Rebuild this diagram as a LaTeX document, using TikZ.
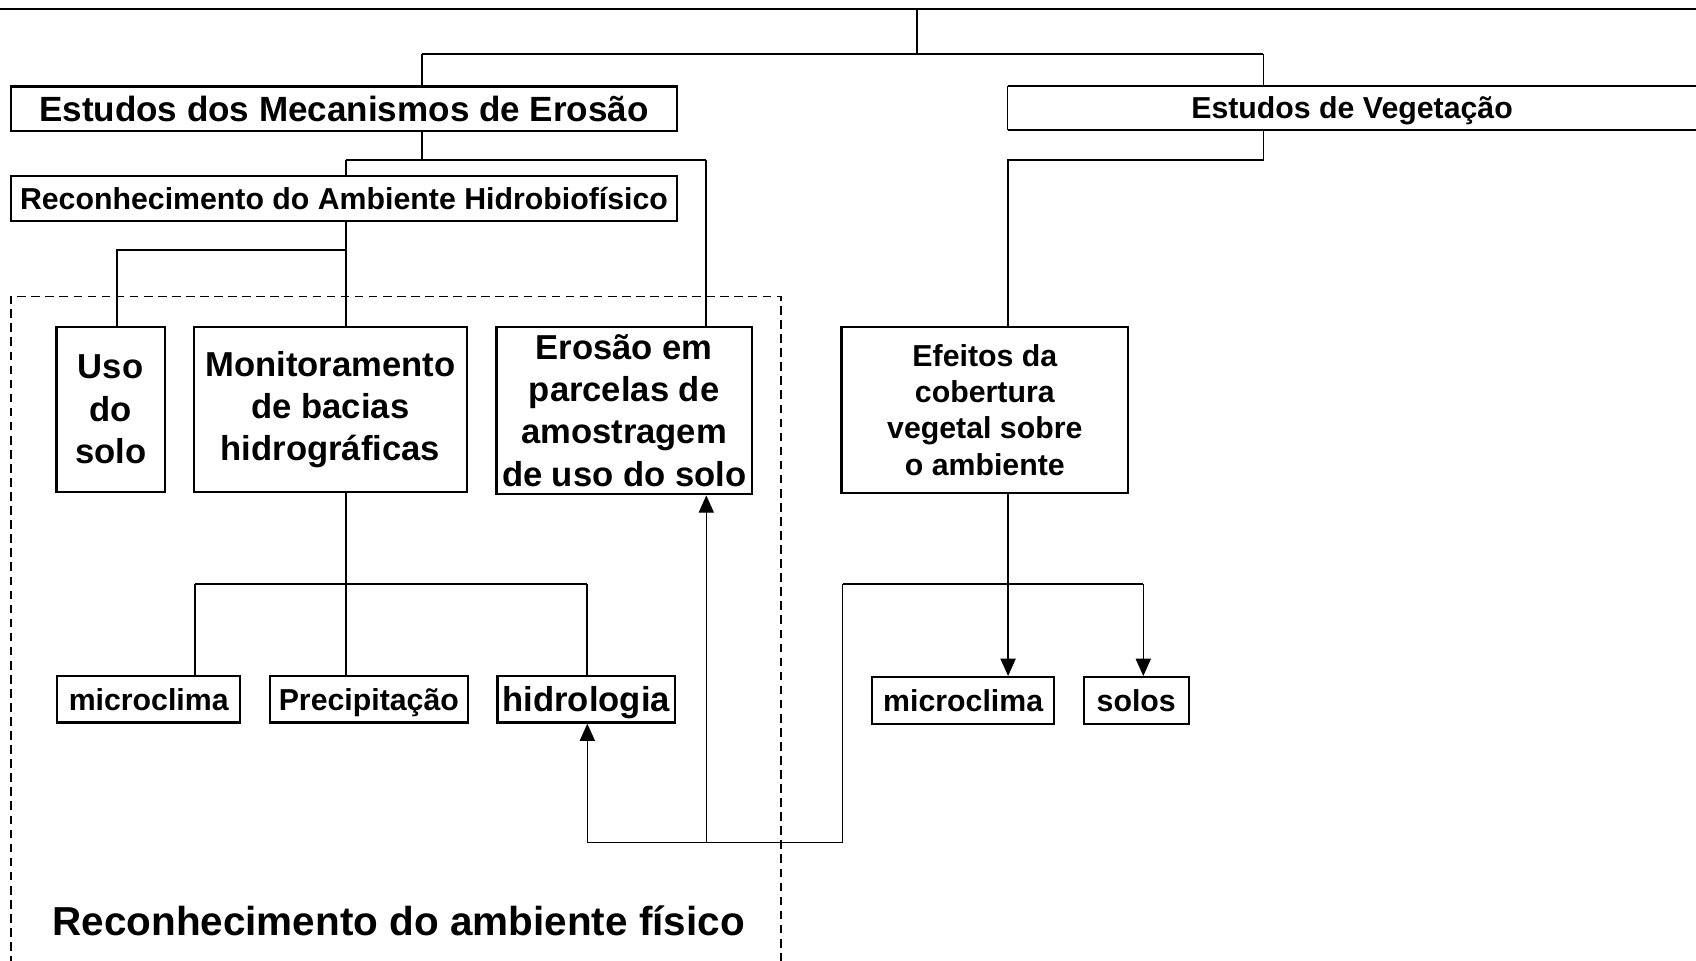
\documentclass[tikz,border=0pt]{standalone}
\usepackage{fontspec}
\setmainfont{Liberation Sans}
\usetikzlibrary{arrows.meta}
\begin{document}
\begin{tikzpicture}[x=0.5pt,y=-0.5pt,
  box/.style={draw, line width=1pt, align=center, inner sep=1pt},
  onea/.style={text height=12.5pt, text depth=2.5pt},
  oneb/.style={text height=14pt, text depth=2.5pt},
  fa/.style={font=\bfseries\fontsize{14}{16.75}\selectfont},
  fb/.style={font=\bfseries\fontsize{16}{19.5}\selectfont},
  conn/.style={line width=0.9pt},
  thinline/.style={line width=0.6pt},
  arr/.style={thinline, -{Triangle[length=8pt,width=7pt]}},
  dashedbox/.style={line width=0.7pt, dash pattern=on 4pt off 2.5pt}
  ]
\useasboundingbox (0,0) rectangle (1568,888);

% nodes
\node[box, oneb, font=\bfseries\fontsize{16.2}{19}\selectfont, minimum width=308pt, minimum height=20.5pt] (A) at (318,100.5) {Estudos dos Mecanismos de Erosão};
\node[fa, onea, minimum width=318pt, minimum height=20pt, inner sep=0pt] (B) at (1250,100) {Estudos de Vegetação};
\node[box, fa, onea, minimum width=308pt, minimum height=20.5pt] (C) at (318,183.5) {Reconhecimento do Ambiente Hidrobiofísico};
\node[box, fb, minimum width=50pt, minimum height=76.5pt] (U) at (102.3,378.5) {Uso\\do\\solo};
\node[box, fb, minimum width=126.5pt, minimum height=76.5pt] (M) at (305.5,378.5) {Monitoramento\\de bacias\\hidrográficas};
\node[box, fb, minimum width=118pt, minimum height=77.5pt] (E) at (577,379.5) {Erosão em\\parcelas de\\amostragem\\de uso do solo};
\node[box, fa, minimum width=132.5pt, minimum height=77pt] (F) at (910.5,379) {Efeitos da\\cobertura\\vegetal sobre\\o ambiente};
\node[box, fa, onea, minimum width=84.5pt, minimum height=21.5pt] (m1) at (137.5,646.5) {microclima};
\node[box, fa, onea, minimum width=91.5pt, minimum height=21.5pt] (P) at (341,646.5) {Precipitação};
\node[box, fb, oneb, minimum width=82pt, minimum height=21.5pt] (H) at (542,646.5) {hidrologia};
\node[box, fa, onea, minimum width=84pt, minimum height=21.5pt] (m2) at (890.5,647.5) {microclima};
\node[box, fa, onea, minimum width=48.5pt, minimum height=21.5pt] (S) at (1050.5,647.5) {solos};
\node[font=\bfseries\fontsize{18.7}{22}\selectfont, text height=16pt, text depth=2.5pt] (T) at (368.5,851) {Reconhecimento do ambiente físico};

% open box of "Estudos de Vegetação"
\draw[conn] (B.north east) -- (B.north west);
\draw[thinline] (B.north west) -- (B.south west);
\draw[conn] (B.south west) -- (B.south east);

% coordinates
\coordinate (tl) at (0,8); \coordinate (tr) at (1568,8);
\coordinate (t0) at (848,8); \coordinate (t1) at (848,50);
\coordinate (hL) at (390,50); \coordinate (hR) at (1168,50);
\coordinate (a1) at (390,148); \coordinate (a2) at (320,148); \coordinate (a3) at (653,148);
\coordinate (c1) at (320,231); \coordinate (c2) at (108,231);
\coordinate (v1) at (1168,148); \coordinate (v2) at (932,148);
\coordinate (k0) at (180,540); \coordinate (k1) at (320,540); \coordinate (k2) at (543,540);
\coordinate (r0) at (779,540); \coordinate (r1) at (1057,540); \coordinate (r2) at (779,779);
\coordinate (b1) at (543,779); \coordinate (b2) at (653,779);
\coordinate (d0) at (10,892); \coordinate (d1) at (10,274); \coordinate (d2) at (722,274); \coordinate (d3) at (722,892);

% connectors
\draw[conn] (tl) -- (tr);
\draw[conn] (t0) -- (t1);
\draw[conn] (hL) -- (hR);
\draw[conn] (hL) -- (hL |- A.north);
\draw[thinline] (hR) -- (hR |- B.north);
\draw[conn] (hL |- A.south) -- (a1);
\draw[conn] (a2) -- (a3);
\draw[conn] (a2) -- (a2 |- C.north);
\draw[conn] (a3) -- (a3 |- E.north);
\draw[conn] (c1 |- C.south) -- (c1 |- M.north);
\draw[conn] (c1) -- (c2) -- (c2 |- U.north);
\draw[thinline] (hR |- B.south) -- (v1) -- (v2) -- (v2 |- F.north);
\draw[conn] (k1 |- M.south) -- (k1);
\draw[conn] (k0) -- (k2);
\draw[conn] (k0) -- (k0 |- m1.north);
\draw[conn] (k1) -- (k1 |- P.north);
\draw[conn] (k2) -- (k2 |- H.north);
\draw[arr] (v2 |- F.south) -- (v2 |- m2.north);
\draw[thinline] (r0) -- (r1);
\draw[arr] (r1) -- (r1 |- S.north);
\draw[arr] (r0) -- (r2) -- (b1) -- (b1 |- H.south);
\draw[arr] (b2) -- (b2 |- E.south);

% dashed frame
\draw[dashedbox] (d0) -- (d1) -- (d2) -- (d3);
\end{tikzpicture}
\end{document}
